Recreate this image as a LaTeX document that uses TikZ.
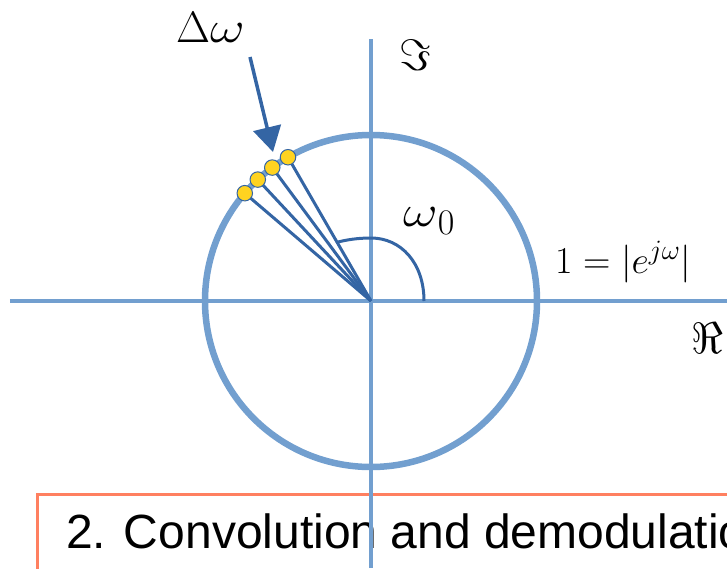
\RequirePackage{fix-cm}
\documentclass[tikz,border=0pt]{standalone}
\usepackage{graphicx}
\usepackage{fontspec}
\newfontfamily\slidefont{Liberation Sans}
\usetikzlibrary{arrows.meta}
\newcommand{\idx}[2]{\hbox{\fontsize{#1}{#1}\selectfont$#2$}}
\newcommand{\wom}{\scalebox{1.22}[1]{$\omega$}}

\definecolor{axisblue}{RGB}{114,159,207}
\definecolor{spokeblue}{RGB}{52,101,164}
\definecolor{dotyellow}{RGB}{255,211,32}
\definecolor{frameorange}{RGB}{255,128,96}

\begin{document}
\begin{tikzpicture}[x=1pt, y=1pt,
  axis/.style={axisblue, line width=3.2pt},
  unitcircle/.style={axisblue, line width=6.5pt},
  spoke/.style={spokeblue, line width=3pt},
  sample/.style={circle, fill=dotyellow, draw=spokeblue, line width=1pt, minimum size=15.5pt, inner sep=0pt},
  biglabel/.style={inner sep=0pt, font=\fontsize{44}{53}\selectfont},
  smalllabel/.style={inner sep=0pt, font=\fontsize{38}{45}\selectfont}]
\useasboundingbox (-371,-267) rectangle (356,301);
\clip (-371,-267) rectangle (356,301);
% slide caption box, cut off by the page
\draw[frameorange, line width=3pt] (-333,-193) rectangle (420,-300);
\node[inner sep=0pt, anchor=base west, font=\slidefont\fontsize{48}{58}\selectfont] (caption) at (-305,-247) {2. Convolution and demodulatio};
% axes
\coordinate (O) at (0,0);
\coordinate (xl) at (-361,0);
\coordinate (xr) at (356,0);
\coordinate (yt) at (0,262);
\coordinate (yb) at (0,-267);
\draw[axis] (xl) -- (xr);
\draw[axis] (yb) -- (yt);
\draw[unitcircle] (O) circle (166);
% angle omega_0
\draw[spoke] (53,0) .. controls (53,38) and (30,63) .. (0,63) .. controls (-14,63) and (-25,61) .. (-33,59);
% samples
\foreach \a [count=\i] in {120,126.5,133,139.5}
  \draw[spoke] (O) -- (\a:166) node[sample] (s\i) {};
\coordinate (tail) at (-121,244);
\coordinate (tip) at (-98,149);
\draw[spokeblue, line width=3.5pt, -{Triangle[length=25pt, width=28pt]}] (tail) -- (tip);
% labels
\node[biglabel, anchor=base west] (dw) at (-195,258) {$\Delta\wom$};
\node[biglabel] (im) at (44,246) {$\Im$};
\node[biglabel, anchor=base west] (w0) at (32,75) {$\wom_{\idx{36}{0}}$};
\node[smalllabel, anchor=base west] (mag) at (184,28) {$1=|e^{\idx{28}{j\omega}}|$};
\node[biglabel] (re) at (336,-37) {$\Re$};
\end{tikzpicture}
\end{document}
